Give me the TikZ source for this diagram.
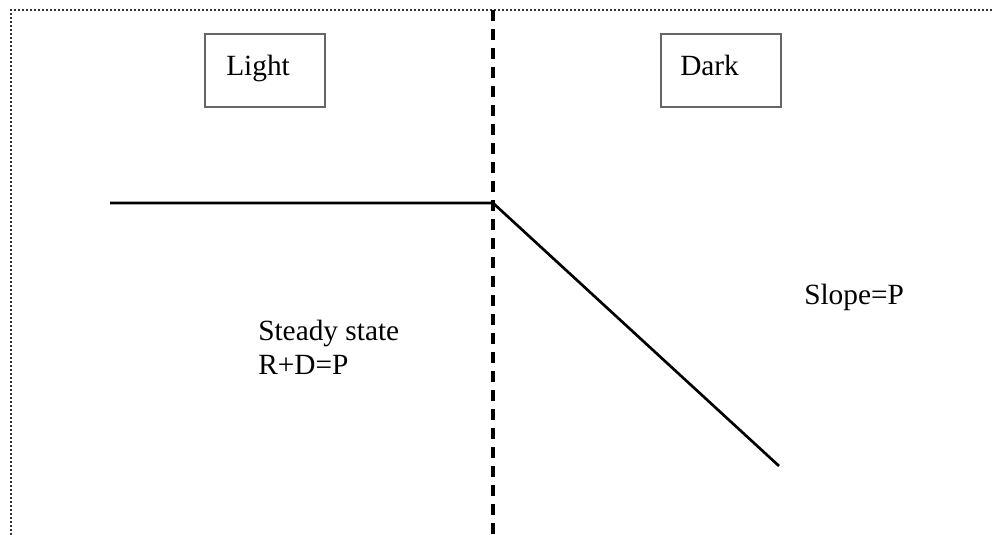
\documentclass[tikz,border=0pt]{standalone}
\usepackage{fontspec}
\setmainfont{Liberation Serif}
\begin{document}
\begin{tikzpicture}[x=0.75pt,y=-0.75pt,
  every node/.style={font=\fontsize{22}{26}\selectfont},
  boxnode/.style={draw=black!60, line width=1pt, minimum width=90pt, minimum height=54.75pt, inner sep=0pt},
  label/.style={anchor=base west, inner sep=0pt},
  border/.style={draw=black!80, line width=1.6pt, dash pattern=on 1.5pt off 1.5pt},
  divider/.style={line width=2.3pt, dash pattern=on 8.25pt off 6pt},
  curve/.style={line width=2pt}]
\useasboundingbox (0,0) rectangle (992,535);
% dotted frame (top and left)
\coordinate (fbl) at (11,535);
\coordinate (ftl) at (11,10);
\coordinate (ftr) at (992,10);
\draw[border] (fbl) -- (ftl) -- (ftr);
% boxes
\node[boxnode] (lightbox) at (265,70.5) {};
\node[label] (lighttext) at (226,76) {Light};
\node[boxnode] (darkbox) at (721,70.5) {};
\node[label] (darktext) at (680,76) {Dark};
% divider
\coordinate (dtop) at (493,10);
\coordinate (dbot) at (493,535);
\draw[divider] (dtop) -- (dbot);
% curve
\coordinate (a) at (110,203);
\coordinate (k) at (493,203);
\coordinate (e) at (779,466);
\draw[curve] (a) -- (k) -- (e);
% labels
\node[label] (steady) at (258,340) {Steady state};
\node[label] (rdp) at (258,374) {R+D=P};
\node[label] (slope) at (804,304) {Slope=P};
\end{tikzpicture}
\end{document}
